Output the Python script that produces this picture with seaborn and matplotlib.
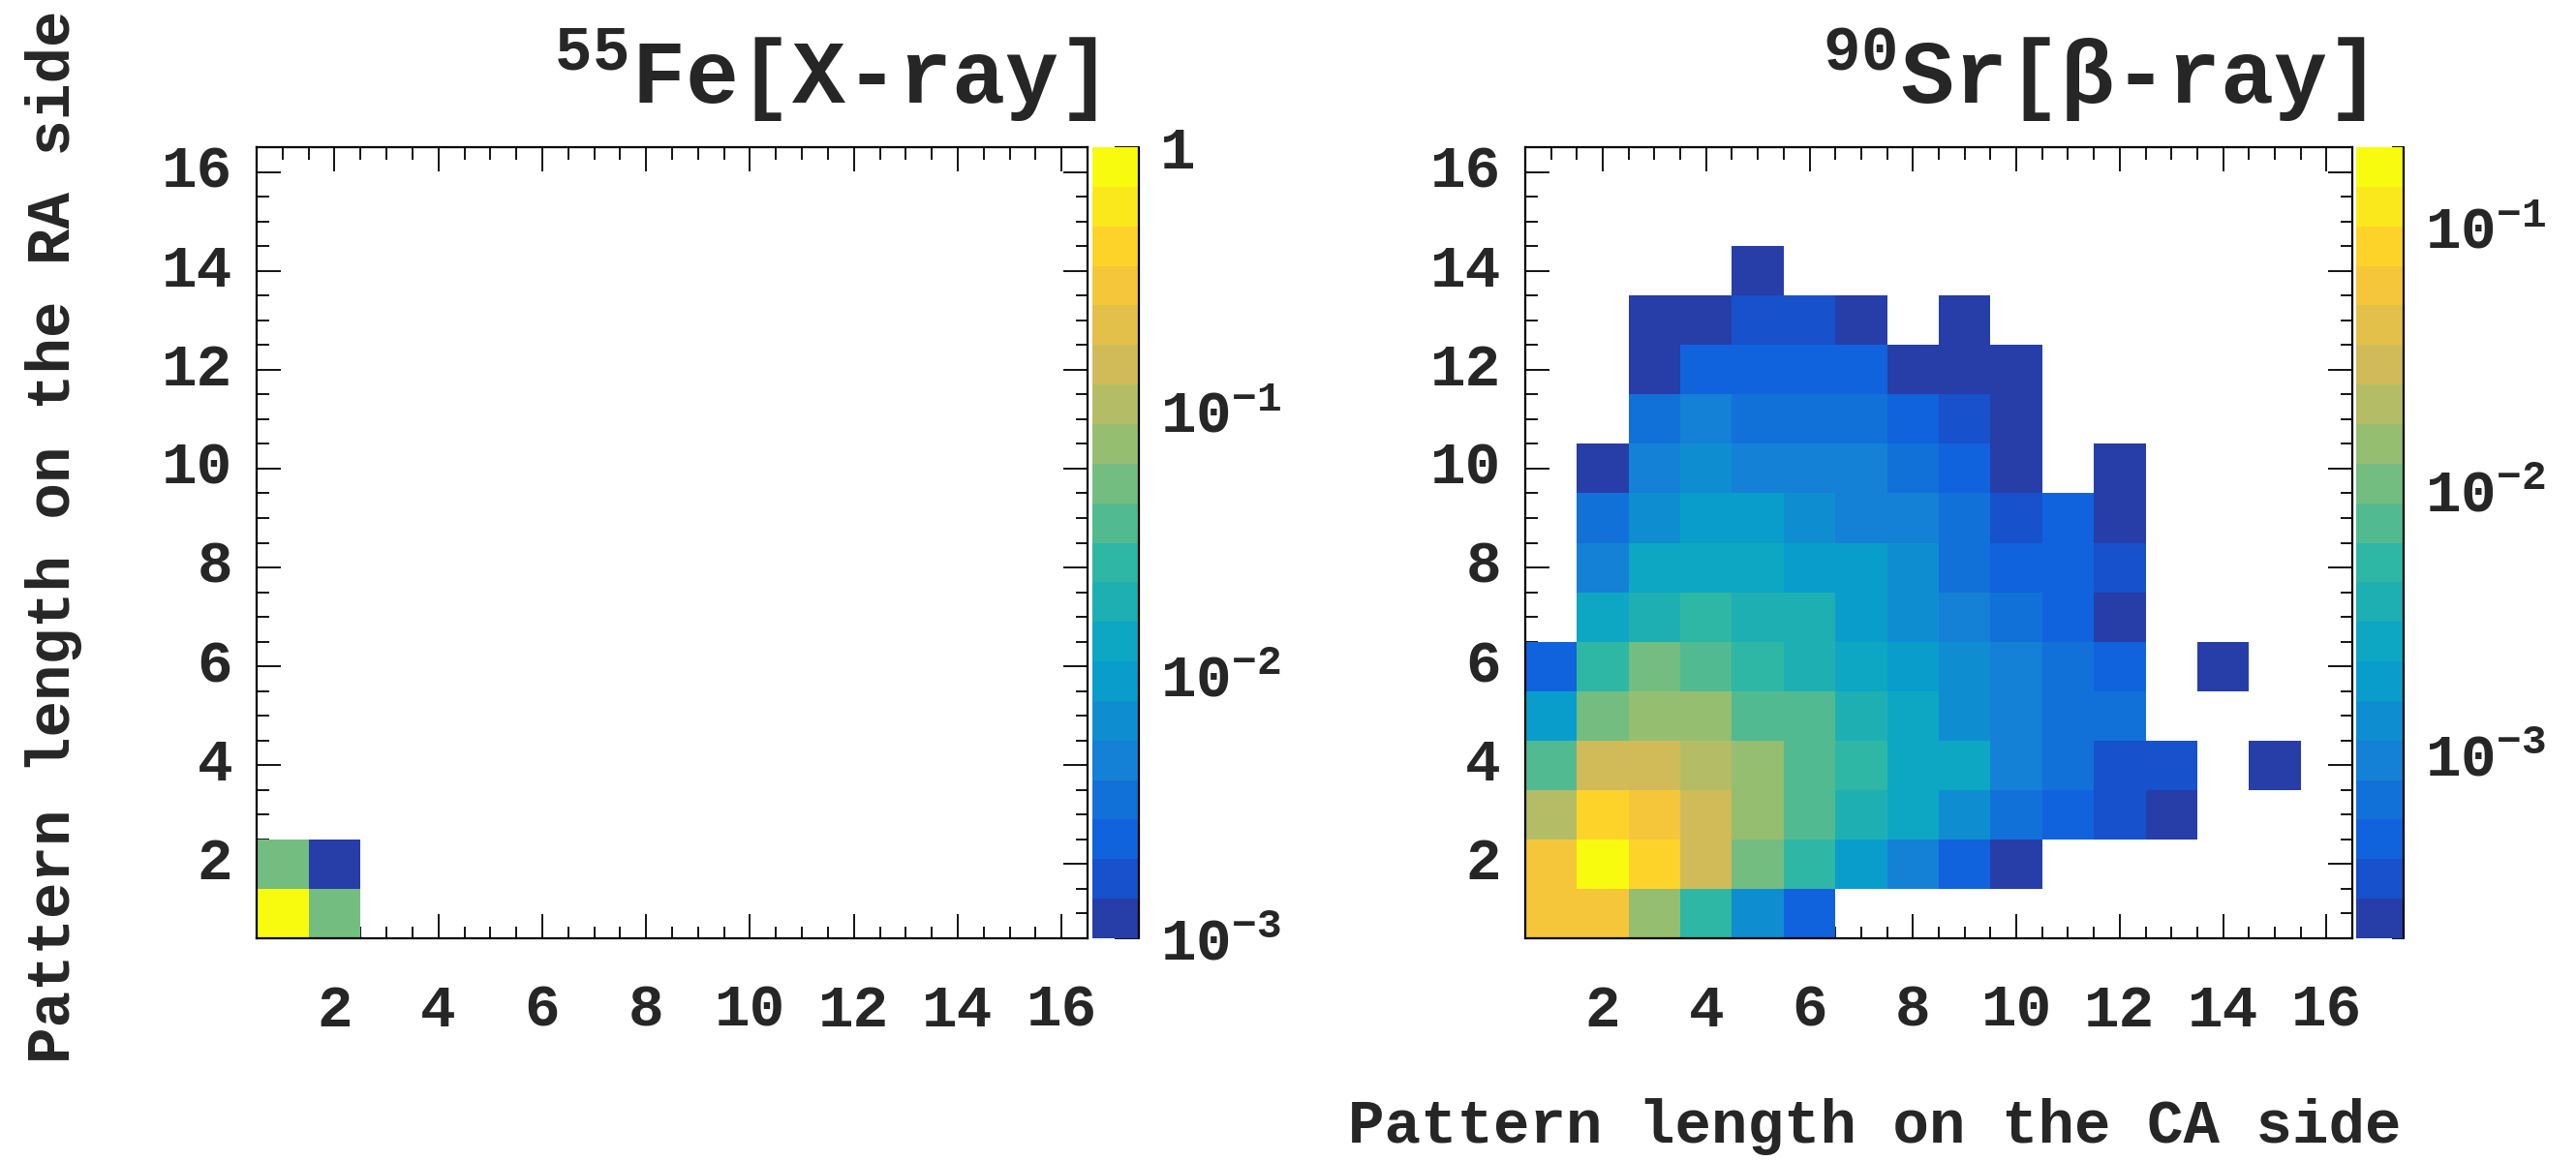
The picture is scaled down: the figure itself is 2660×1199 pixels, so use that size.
import numpy as np
import pandas as pd
import matplotlib
matplotlib.use("Agg")
import matplotlib.pyplot as plt
import seaborn as sns
from matplotlib.colors import LogNorm, ListedColormap, LinearSegmentedColormap
from matplotlib.ticker import FixedLocator, MultipleLocator, LogLocator, NullFormatter

# ---------------- data ----------------
bins = list(range(1, 17))          # pattern length bins (1..16) on both axes
x_tick_values = [2, 4, 6, 8, 10, 12, 14, 16]
y_tick_values = [2, 4, 6, 8, 10, 12, 14, 16]

# 55Fe [X-ray]: rows = RA side length (1..), columns = CA side length (1..)
fe_row1 = [0.89, 0.054]
fe_row2 = [0.054, 0.0012]
fe_zlim = [1e-3, 1.0]
fe_cbar_ticks = [1e-3, 1e-2, 1e-1, 1.0]
fe_cbar_labels = [r"$\mathregular{10^{-3}}$", r"$\mathregular{10^{-2}}$",
                  r"$\mathregular{10^{-1}}$", "1"]

# 90Sr [beta-ray]: rows y = 1..16 (RA side), columns x = 1..16 (CA side); 0 = empty
sr_y1 = [0.060, 0.060, 0.015, 0.0053, 0.0013, 0.00047, 0, 0, 0, 0, 0, 0, 0, 0, 0, 0]
sr_y2 = [0.060, 0.168, 0.084, 0.030, 0.0106, 0.0053, 0.0019, 0.00095, 0.00047, 0.00024, 0, 0, 0, 0, 0, 0]
sr_y3 = [0.021, 0.084, 0.060, 0.030, 0.015, 0.0075, 0.0038, 0.0027, 0.0013, 0.00067, 0.00047, 0.00034, 0.00024, 0, 0, 0]
sr_y4 = [0.0075, 0.030, 0.030, 0.021, 0.015, 0.0075, 0.0053, 0.0027, 0.0027, 0.00095, 0.00067, 0.00034, 0.00034, 0, 0.00024, 0]
sr_y5 = [0.0019, 0.0106, 0.015, 0.015, 0.0075, 0.0075, 0.0038, 0.0027, 0.0013, 0.00095, 0.00067, 0.00067, 0, 0, 0, 0]
sr_y6 = [0.00047, 0.0053, 0.0106, 0.0075, 0.0053, 0.0038, 0.0027, 0.0019, 0.0013, 0.00095, 0.00067, 0.00047, 0, 0.00024, 0, 0]
sr_y7 = [0, 0.0027, 0.0038, 0.0053, 0.0038, 0.0038, 0.0019, 0.0013, 0.00095, 0.00067, 0.00047, 0.00024, 0, 0, 0, 0]
sr_y8 = [0, 0.00095, 0.0027, 0.0027, 0.0027, 0.0019, 0.0019, 0.0013, 0.00067, 0.00047, 0.00047, 0.00034, 0, 0, 0, 0]
sr_y9 = [0, 0.00067, 0.0013, 0.0019, 0.0019, 0.0013, 0.00095, 0.00095, 0.00067, 0.00034, 0.00047, 0.00024, 0, 0, 0, 0]
sr_y10 = [0, 0.00024, 0.00095, 0.0013, 0.00095, 0.00095, 0.00095, 0.00067, 0.00047, 0.00024, 0, 0.00024, 0, 0, 0, 0]
sr_y11 = [0, 0, 0.00067, 0.00095, 0.00067, 0.00067, 0.00067, 0.00047, 0.00034, 0.00024, 0, 0, 0, 0, 0, 0]
sr_y12 = [0, 0, 0.00024, 0.00047, 0.00047, 0.00047, 0.00047, 0.00024, 0.00024, 0.00024, 0, 0, 0, 0, 0, 0]
sr_y13 = [0, 0, 0.00024, 0.00024, 0.00034, 0.00034, 0.00024, 0, 0.00024, 0, 0, 0, 0, 0, 0, 0]
sr_y14 = [0, 0, 0, 0, 0.00024, 0, 0, 0, 0, 0, 0, 0, 0, 0, 0, 0]
sr_y15 = [0] * 16
sr_y16 = [0] * 16
sr_zlim = [2e-4, 0.2]
sr_cbar_ticks = [1e-3, 1e-2, 1e-1]
sr_cbar_labels = [r"$\mathregular{10^{-3}}$", r"$\mathregular{10^{-2}}$", r"$\mathregular{10^{-1}}$"]

titles = [r"$\mathregular{^{55}}$Fe[X-ray]", r"$\mathregular{^{90}}$Sr[β-ray]"]
xlabel = "Pattern length on the CA side"
ylabel = "Pattern length on the RA side"

# ---------------- style ----------------
sns.set_style("white")
plt.rcParams["font.family"] = ["Liberation Mono", "DejaVu Sans Mono"]
plt.rcParams["font.weight"] = "bold"
plt.rcParams["axes.linewidth"] = 1.6

# ROOT kBird palette, 20 contour levels
bird_stops = [0.0, 0.125, 0.25, 0.375, 0.5, 0.625, 0.75, 0.875, 1.0]
bird_r = [0.2082, 0.0592, 0.0780, 0.0232, 0.1802, 0.5301, 0.8186, 0.9956, 0.9764]
bird_g = [0.1664, 0.3599, 0.5041, 0.6419, 0.7178, 0.7492, 0.7328, 0.7862, 0.9832]
bird_b = [0.5293, 0.8684, 0.8385, 0.7914, 0.6425, 0.4662, 0.3499, 0.1968, 0.0539]
bird = LinearSegmentedColormap.from_list(
    "bird", list(zip(bird_stops, zip(bird_r, bird_g, bird_b))), N=255)
nlev = 20
cols = [bird(int((i + 0.99) * 255 / nlev) / 254.0) for i in range(nlev)]
cmap = ListedColormap(cols)


def build(rows):
    mat = np.zeros((16, 16))
    for r, row in enumerate(rows):
        mat[r, :len(row)] = row
    return pd.DataFrame(mat, index=bins, columns=bins)


fe_df = build([fe_row1, fe_row2])
sr_df = build([sr_y1, sr_y2, sr_y3, sr_y4, sr_y5, sr_y6, sr_y7, sr_y8,
               sr_y9, sr_y10, sr_y11, sr_y12, sr_y13, sr_y14, sr_y15, sr_y16])

W, H = 2660, 1199
fig = plt.figure(figsize=(W / 100, H / 100), dpi=100)


def fx(px):
    return px / W


def fy(py):
    return 1 - py / H


ax_bottom = fy(969)
ax_h = (969 - 152) / H
panels = [
    dict(df=fe_df, zlim=fe_zlim, ticks=fe_cbar_ticks, labels=fe_cbar_labels,
         ax=[fx(265), ax_bottom, fx(858), ax_h], cax=[fx(1128), ax_bottom, fx(48), ax_h],
         title=titles[0], title_x=1132),
    dict(df=sr_df, zlim=sr_zlim, ticks=sr_cbar_ticks, labels=sr_cbar_labels,
         ax=[fx(1575), ax_bottom, fx(854), ax_h], cax=[fx(2433), ax_bottom, fx(49), ax_h],
         title=titles[1], title_x=2442),
]

FS = 44
for p in panels:
    ax = fig.add_axes(p["ax"])
    cax = fig.add_axes(p["cax"])
    df = p["df"]
    sns.heatmap(df, mask=(df <= 0), cmap=cmap,
                norm=LogNorm(vmin=p["zlim"][0], vmax=p["zlim"][1]),
                ax=ax, cbar_ax=cax, linewidths=0)
    ax.set_xlim(0, 16)
    ax.set_ylim(0, 16)
    for s in ax.spines.values():
        s.set_visible(True)
        s.set_color("black")
        s.set_linewidth(1.6)
    ax.set_xlabel("")
    ax.set_ylabel("")
    ax.xaxis.set_major_locator(FixedLocator([v - 0.5 for v in x_tick_values]))
    ax.yaxis.set_major_locator(FixedLocator([v - 0.5 for v in y_tick_values]))
    ax.set_xticklabels([str(v) for v in x_tick_values], rotation=0, fontsize=FS, fontweight="bold")
    ax.set_yticklabels([str(v) for v in y_tick_values], rotation=0, fontsize=FS, fontweight="bold")
    ax.xaxis.set_minor_locator(MultipleLocator(0.5))
    ax.yaxis.set_minor_locator(MultipleLocator(0.5))
    ax.tick_params(which="both", direction="in", top=True, right=True, bottom=True, left=True,
                   labeltop=False, labelright=False, color="black", width=1.3)
    ax.tick_params(which="major", length=18)
    ax.tick_params(which="minor", length=9)
    ax.tick_params(axis="x", which="major", pad=33)
    ax.tick_params(axis="y", which="major", pad=18)

    # colour bar
    cbar = ax.collections[0].colorbar
    cbar.outline.set_visible(False)
    cax.yaxis.set_ticks_position("right")
    cax.yaxis.set_major_locator(FixedLocator(p["ticks"]))
    cax.yaxis.set_minor_locator(LogLocator(base=10, subs=np.arange(2, 10)))
    cax.yaxis.set_minor_formatter(NullFormatter())
    cax.set_yticklabels(p["labels"], fontsize=FS, fontweight="bold")
    cax.tick_params(which="both", direction="in", right=True, left=False, color="black", width=1.3)
    cax.tick_params(which="major", length=18, pad=16)
    cax.tick_params(which="minor", length=9)
    cax.plot([1, 1], [0, 1], transform=cax.transAxes, color="black", lw=1.6, clip_on=False)

    fig.text(fx(p["title_x"]), fy(107), p["title"], ha="right", va="baseline",
             fontsize=66, fontweight="bold")

fig.text(fx(2480), fy(1180), xlabel, ha="right", va="baseline", fontsize=45, fontweight="bold")
fig.text(fx(56), fy(1098), ylabel, ha="center", va="bottom", rotation=90,
         fontsize=45, fontweight="bold")

fig.savefig("out.png", dpi=100, facecolor="white")
